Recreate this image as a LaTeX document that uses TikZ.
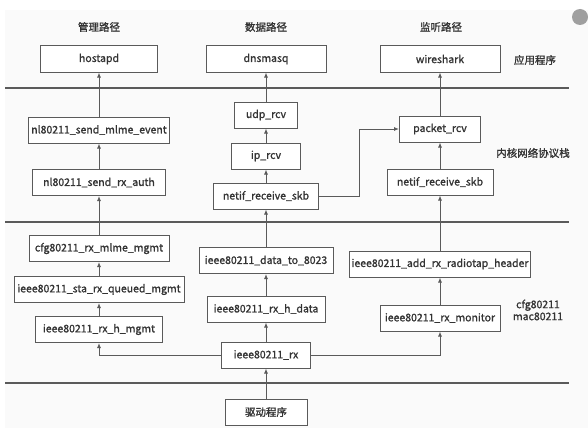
\documentclass[tikz,border=0pt]{standalone}
\usepackage{fontspec}
\setmainfont{Noto Sans CJK SC}
\newfontfamily\boxfont{Noto Sans CJK SC}[FakeBold=1.2]
\usetikzlibrary{arrows.meta}
\definecolor{linegray}{HTML}{5A5A5A}
\definecolor{textgray}{HTML}{333333}
\definecolor{panel}{HTML}{FAFAFA}

\tikzset{
  func/.style={rectangle,draw=linegray,fill=white,line width=1pt,
    minimum height=26pt,inner sep=2pt,text=textgray,
    font=\boxfont\fontsize{10.5}{12}\selectfont},
  tag/.style={text=textgray,align=center,
    font=\boxfont\fontsize{10.5}{12}\selectfont},
  flow/.style={draw=linegray,line width=0.9pt,-{Latex[length=5pt,width=4pt]}},
  layer/.style={draw=linegray,line width=2pt}
}

\begin{document}
\begin{tikzpicture}[x=1pt,y=-1pt]
\useasboundingbox (0,0) rectangle (588,428);
\fill[panel] (5,10) rectangle (588,428);
\fill[gray!75] (580,17) circle (8);

% path headers
\path (99,27) node(hmgmt) [tag] {管理路径}
(266,27) node(hdata) [tag] {数据路径}
(441,27) node(hmon) [tag] {监听路径};

% layer separators
\draw[layer] (5,88) -- (569,88);
\draw[layer] (5,222) -- (569,222);
\draw[layer] (5,383) -- (569,383);

% layer labels
\path (535,60) node(lapp) [tag] {应用程序}
(533,153) node(lkern) [tag] {内核网络协议栈}
(538,310) node(lmac) [tag] {cfg80211\\mac80211};

% management path
\path (99,59) node(hostapd) [func,minimum width=117pt] {hostapd}
(99,130) node(mlmeevt) [func,minimum width=141pt] {nl80211\_send\_mlme\_event}
(99,182.5) node(rxauth) [func,minimum width=133pt] {nl80211\_send\_rx\_auth}
(99,248.5) node(cfgmlme) [func,minimum width=140pt] {cfg80211\_rx\_mlme\_mgmt}
(99,289.5) node(queued) [func,minimum width=170pt] {ieee80211\_sta\_rx\_queued\_mgmt}
(99,329.5) node(rxhmgmt) [func,minimum width=127pt] {ieee80211\_rx\_h\_mgmt};

% data path
\path (266,59) node(dnsmasq) [func,minimum width=120pt] {dnsmasq}
(266,115) node(udp) [func,minimum width=63pt] {udp\_rcv}
(266,156) node(ip) [func,minimum width=69pt] {ip\_rcv}
(266,196) node(netifdata) [func,minimum width=105pt] {netif\_receive\_skb}
(266,260.5) node(to8023) [func,minimum width=134pt] {ieee80211\_data\_to\_8023}
(266,309) node(rxhdata) [func,minimum width=118pt] {ieee80211\_rx\_h\_data}
(266,355) node(rx) [func,minimum width=89pt] {ieee80211\_rx}
(266,412) node(driver) [func,minimum width=82pt] {驱动程序};

% monitor path
\path (440,59) node(wireshark) [func,minimum width=120pt] {wireshark}
(440,129) node(packet) [func,minimum width=81pt] {packet\_rcv}
(440,182) node(netifmon) [func,minimum width=106pt] {netif\_receive\_skb}
(440,264) node(radiotap) [func,minimum width=180pt] {ieee80211\_add\_rx\_radiotap\_header}
(440,318) node(rxmon) [func,minimum width=120pt] {ieee80211\_rx\_monitor};

\coordinate (jog) at (359,196);

\draw[flow] (mlmeevt.north) -- (hostapd.south);
\draw[flow] (rxauth.north) -- (mlmeevt.south);
\draw[flow] (cfgmlme.north) -- (rxauth.south);
\draw[flow] (queued.north) -- (cfgmlme.south);
\draw[flow] (rxhmgmt.north) -- (queued.south);
\draw[flow] (rx.west) -| (rxhmgmt.south);

\draw[flow] (udp.north) -- (dnsmasq.south);
\draw[flow] (ip.north) -- (udp.south);
\draw[flow] (netifdata.north) -- (ip.south);
\draw[flow] (to8023.north) -- (netifdata.south);
\draw[flow] (rxhdata.north) -- (to8023.south);
\draw[flow] (rx.north) -- (rxhdata.south);
\draw[flow] (driver.north) -- (rx.south);

\draw[flow] (packet.north) -- (wireshark.south);
\draw[flow] (netifmon.north) -- (packet.south);
\draw[flow] (radiotap.north) -- (netifmon.south);
\draw[flow] (rxmon.north) -- (radiotap.south);
\draw[flow] (rx.east) -| (rxmon.south);
\draw[flow] (netifdata.east) -- (jog) |- (packet.west);
\end{tikzpicture}
\end{document}
